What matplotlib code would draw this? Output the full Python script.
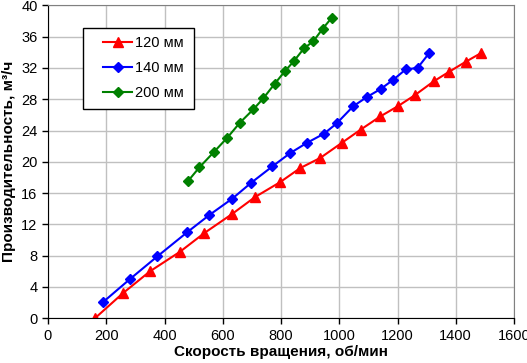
import matplotlib
matplotlib.use("Agg")
import matplotlib.pyplot as plt
from matplotlib.patches import Rectangle

plt.rcParams['font.family'] = ['Liberation Sans', 'DejaVu Sans']

#data
rpm_120 = [161, 257, 350, 453, 537, 631, 711, 797, 866, 935, 1008, 1073, 1141, 1201, 1259, 1325, 1377, 1435, 1487]
flow_120 = [0.0, 3.2, 6.0, 8.5, 10.9, 13.3, 15.5, 17.4, 19.2, 20.5, 22.4, 24.1, 25.8, 27.1, 28.5, 30.3, 31.5, 32.8, 33.9]

rpm_140 = [190, 281, 375, 478, 554, 633, 697, 770, 831, 888, 948, 991, 1048, 1096, 1142, 1186, 1228, 1269, 1309]
flow_140 = [2.1, 5.0, 7.9, 11.0, 13.2, 15.3, 17.3, 19.4, 21.1, 22.4, 23.6, 24.9, 27.1, 28.3, 29.3, 30.5, 31.8, 32.0, 33.9]

rpm_200 = [480, 520, 571, 616, 659, 705, 739, 779, 814, 845, 879, 911, 943, 974]
flow_200 = [17.5, 19.3, 21.3, 23.1, 25.0, 26.7, 28.1, 30.0, 31.6, 32.9, 34.5, 35.4, 37.0, 38.4]

x_ticks = [0, 200, 400, 600, 800, 1000, 1200, 1400, 1600]
y_ticks = [0, 4, 8, 12, 16, 20, 24, 28, 32, 36, 40]

fig = plt.figure(figsize=(5.27, 3.63), dpi=100)
ax = fig.add_axes([48/527, 1-318.3/363, 466/527, 313/363])

ax.plot(rpm_120, flow_120, color="#ff0000", lw=1.5, marker="^", ms=7.5, label="120 мм")
ax.plot(rpm_140, flow_140, color="#0000ff", lw=1.5, marker="D", ms=5.5, label="140 мм")
ax.plot(rpm_200, flow_200, color="#008000", lw=1.5, marker="D", ms=5.5, label="200 мм")

ax.set_xlim(0, 1600)
ax.set_ylim(0, 40)
ax.set_xticks(x_ticks)
ax.set_yticks(y_ticks)
ax.grid(True, color="#c0c0c0", lw=1)
ax.set_axisbelow(True)
ax.tick_params(direction="out", length=4, width=1, labelsize=10.5, colors="black")

for side in ["top", "right"]:
    ax.spines[side].set_color("#808080")
for side in ["left", "bottom"]:
    ax.spines[side].set_color("black")

ax.set_xlabel("Скорость вращения, об/мин", fontsize=11, fontweight="bold", labelpad=2)
ax.set_ylabel("Производительность, м³/ч", fontsize=11, fontweight="bold", labelpad=4)

# legend box drawn by hand (Excel style: wide side padding)
frame = Rectangle((83.3/527, 1-109/363), 111/527, 80.7/363, transform=fig.transFigure,
                  facecolor="white", edgecolor="black", lw=1, zorder=4)
fig.patches.append(frame)
leg = fig.legend(loc="upper left", bbox_to_anchor=(103/527, 1-36/363), frameon=False,
                 fontsize=10.5, handlelength=2.0, labelspacing=0.75, borderpad=0,
                 handletextpad=0.2, borderaxespad=0)
leg.set_zorder(5)

fig.savefig("out.png", dpi=100)
